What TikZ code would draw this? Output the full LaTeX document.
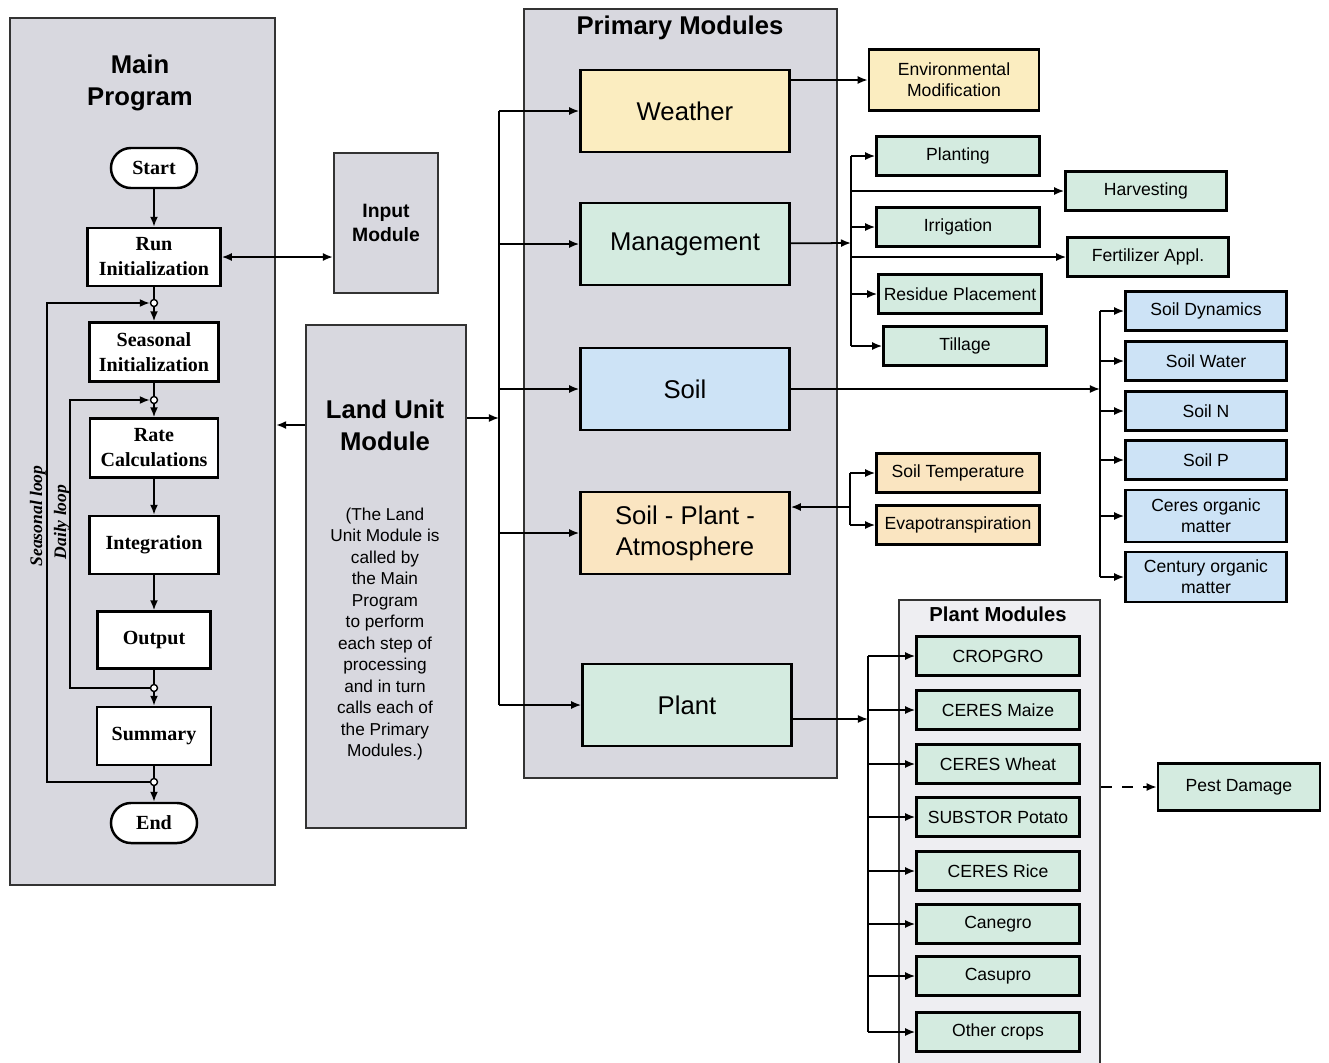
\documentclass[tikz,border=0pt]{standalone}
\usepackage{fontspec}
\setmainfont{Liberation Sans}
\newfontfamily\timesfont{Liberation Serif}
\usetikzlibrary{arrows.meta}

\definecolor{panelgray}{RGB}{216,216,223}
\definecolor{lightpanel}{RGB}{238,238,242}
\definecolor{wyellow}{RGB}{251,237,192}
\definecolor{speach}{RGB}{250,229,193}
\definecolor{mint}{RGB}{212,235,224}
\definecolor{soilblue}{RGB}{205,227,246}

\begin{document}
\begin{tikzpicture}[x=0.01cm, y=-0.01cm,
    panel/.style={draw=black!80, fill=panelgray, line width=0.6pt},
    mainbox/.style={draw, fill=white, line width=0.7pt, align=center, inner sep=0pt,
        font=\timesfont\bfseries\fontsize{5.7}{7.1}\selectfont},
    term/.style={mainbox, rounded corners=0.2cm, minimum width=0.86cm, minimum height=0.40cm},
    primary/.style={draw, line width=0.7pt, minimum width=2.09cm, minimum height=0.82cm,
        align=center, font=\fontsize{7.3}{8.8}\selectfont},
    sub/.style={draw, line width=0.7pt, minimum width=1.63cm, minimum height=0.39cm,
        inner sep=0pt, align=center, font=\fontsize{5}{6}\selectfont},
    title/.style={align=center, font=\bfseries\fontsize{7.3}{9.1}\selectfont},
    joint/.style={circle, draw, fill=white, inner sep=0pt, minimum size=0.07cm, line width=0.4pt},
    arr/.style={-{Latex[length=1mm,width=0.8mm]}, line width=0.5pt},
    looplabel/.style={rotate=90, font=\timesfont\bfseries\itshape\fontsize{5}{6}\selectfont}
]
\useasboundingbox (0,0) rectangle (1329,1063);

% main program
\node[panel, minimum width=2.65cm, minimum height=8.67cm] (mainpanel) at (142.5,451.5) {};
\node[title] (maintitle) at (140,83) {Main\\Program};

\node[term] (start) at (154,168) {Start};
\node[mainbox, minimum width=1.33cm, minimum height=0.58cm] (runinit) at (154,257) {Run\\Initialization};
\node[mainbox, minimum width=1.29cm, minimum height=0.59cm] (seasinit) at (154,352) {Seasonal\\Initialization};
\node[mainbox, minimum width=1.28cm, minimum height=0.59cm] (rate) at (154,448) {Rate\\Calculations};
\node[mainbox, minimum width=1.29cm, minimum height=0.58cm] (integ) at (154,545) {Integration};
\node[mainbox, minimum width=1.13cm, minimum height=0.57cm] (output) at (154,640) {Output};
\node[mainbox, minimum width=1.14cm, minimum height=0.58cm] (summary) at (154,736) {Summary};
\node[term] (end) at (154,823) {End};

\node[joint] (sj1) at (154,303) {};
\node[joint] (dj1) at (154,400) {};
\node[joint] (dj2) at (154,688) {};
\node[joint] (sj2) at (154,782) {};

\draw[arr] (start) -- (runinit);
\draw (runinit) -- (sj1);
\draw[arr] (sj1) -- (seasinit);
\draw (seasinit) -- (dj1);
\draw[arr] (dj1) -- (rate);
\draw[arr] (rate) -- (integ);
\draw[arr] (integ) -- (output);
\draw (output) -- (dj2);
\draw[arr] (dj2) -- (summary);
\draw (summary) -- (sj2);
\draw[arr] (sj2) -- (end);

% loops
\coordinate (sl1) at (47,303);
\coordinate (sl2) at (47,782);
\coordinate (dl1) at (70,400);
\coordinate (dl2) at (70,688);
\draw[arr] (sj2) -- (sl2) -- (sl1) -- (sj1);
\draw[arr] (dj2) -- (dl2) -- (dl1) -- (dj1);
\node[looplabel] (seaslabel) at (38,516) {Seasonal loop};
\node[looplabel] (dailylabel) at (62,522) {Daily loop};

% input and land unit
\node[panel, minimum width=1.04cm, minimum height=1.40cm, align=center,
    font=\bfseries\fontsize{5.5}{6.9}\selectfont] (input) at (386,223) {Input\\Module};
\draw[{Latex[length=1mm,width=0.8mm]}-{Latex[length=1mm,width=0.8mm]}, line width=0.5pt]
    (runinit) -- (runinit -| input.west);

\node[panel, minimum width=1.60cm, minimum height=5.03cm] (landunit) at (386,576.5) {};
\node[title] (landtitle) at (385,425) {Land Unit\\Module};
\node[align=center, font=\fontsize{4.9}{6.1}\selectfont] (landnote) at (385,634)
    {(The Land\\Unit Module is\\called by\\the Main\\Program\\to perform\\each step of\\processing\\and in turn\\calls each of\\the Primary\\Modules.)};
\draw[arr] (landunit.west |- landtitle) -- (mainpanel.east |- landtitle);

% primary modules
\node[panel, minimum width=3.13cm, minimum height=7.69cm] (primpanel) at (680.5,393.5) {};
\node[title] (primtitle) at (680,28) {Primary Modules};

\node[primary, fill=wyellow] (weather) at (685,111) {Weather};
\node[primary, fill=mint] (manage) at (685,244) {Management};
\node[primary, fill=soilblue] (soil) at (685,389) {Soil};
\node[primary, fill=speach] (spa) at (685,533) {Soil - Plant -\\Atmosphere};
\node[primary, fill=mint] (plant) at (687,705) {Plant};

\coordinate (trunk) at (499,418);
\draw[arr] (landunit.east |- trunk) -- (trunk);
\draw[line width=0.5pt] (trunk |- weather) -- (trunk |- plant);
\foreach \m in {weather, manage, soil, spa, plant}
    \draw[arr] (trunk |- \m) -- (\m.west);

% weather
\node[sub, fill=wyellow, minimum width=1.70cm, minimum height=0.61cm] (envmod) at (954,80) {Environmental\\Modification};
\draw[arr] (weather.east |- envmod) -- (envmod);

% management
\node[sub, fill=mint] (planting) at (958,156) {Planting};
\node[sub, fill=mint, minimum width=1.61cm] (harvest) at (1146,191) {Harvesting};
\node[sub, fill=mint] (irrig) at (958,227) {Irrigation};
\node[sub, fill=mint, minimum width=1.61cm] (fert) at (1148,257) {Fertilizer Appl.};
\node[sub, fill=mint] (residue) at (960,294) {Residue Placement};
\node[sub, fill=mint] (tillage) at (965,346) {Tillage};
\coordinate (mj) at (851,243);
\draw[arr] (manage) -- (mj);
\draw[line width=0.5pt] (mj |- planting) -- (mj |- tillage);
\foreach \s in {planting, harvest, irrig, fert, residue, tillage}
    \draw[arr] (mj |- \s) -- (\s.west);

% soil
\node[sub, fill=soilblue, minimum width=1.61cm] (soildyn) at (1206,311) {Soil Dynamics};
\node[sub, fill=soilblue, minimum width=1.61cm] (soilwater) at (1206,361) {Soil Water};
\node[sub, fill=soilblue, minimum width=1.61cm] (soiln) at (1206,411) {Soil N};
\node[sub, fill=soilblue, minimum width=1.61cm] (soilp) at (1206,460) {Soil P};
\node[sub, fill=soilblue, minimum width=1.61cm, minimum height=0.52cm] (ceres) at (1206,516) {Ceres organic\\matter};
\node[sub, fill=soilblue, minimum width=1.61cm, minimum height=0.50cm] (century) at (1206,577) {Century organic\\matter};
\coordinate (sj) at (1100,389);
\draw[arr] (soil) -- (sj);
\draw[line width=0.5pt] (sj |- soildyn) -- (sj |- century);
\foreach \s in {soildyn, soilwater, soiln, soilp, ceres, century}
    \draw[arr] (sj |- \s) -- (\s.west);

% soil - plant - atmosphere
\node[sub, fill=speach] (soiltemp) at (958,473) {Soil Temperature};
\node[sub, fill=speach] (evapo) at (958,525) {Evapotranspiration};
\coordinate (aj) at (850,507);
\draw[arr] (aj) -- (spa.east |- aj);
\draw[line width=0.5pt] (aj |- soiltemp) -- (aj |- evapo);
\draw[arr] (aj |- soiltemp) -- (soiltemp);
\draw[arr] (aj |- evapo) -- (evapo);

% plant modules
\node[panel, fill=lightpanel, minimum width=2.01cm, minimum height=4.70cm] (plantpanel) at (999.5,835) {};
\node[font=\bfseries\fontsize{5.75}{7}\selectfont] (planttitle) at (998,614) {Plant Modules};
\foreach \n/\y/\t in {cropgro/656/CROPGRO, maize/710/CERES Maize, wheat/764/CERES Wheat,
    potato/817/SUBSTOR Potato, rice/871/CERES Rice, canegro/924/Canegro,
    casupro/976/Casupro, other/1032/Other crops}
    \node[sub, fill=mint] (\n) at (998,\y) {\t};
\coordinate (pj) at (868,719);
\draw[arr] (plant.east |- pj) -- (pj);
\draw[line width=0.5pt] (pj |- cropgro) -- (pj |- other);
\foreach \n in {cropgro, maize, wheat, potato, rice, canegro, casupro, other}
    \draw[arr] (pj |- \n) -- (\n.west);

\node[sub, fill=mint, minimum width=1.62cm, minimum height=0.47cm] (pest) at (1239,787) {Pest Damage};
\draw[arr, dashed] (plantpanel.east |- pest) -- (pest);
\end{tikzpicture}
\end{document}
